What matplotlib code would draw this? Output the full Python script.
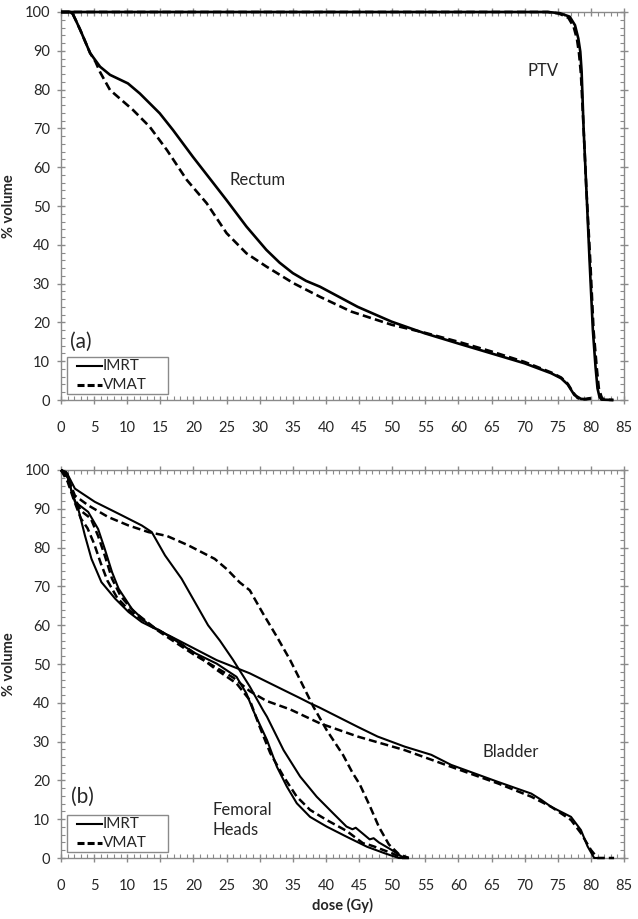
import matplotlib
matplotlib.use("Agg")
import matplotlib.pyplot as plt
from matplotlib.ticker import MultipleLocator
from matplotlib.patches import Rectangle

plt.rcParams['font.family'] = ['Lato', 'DejaVu Sans']

# ---------------- panel (a) ----------------
rectum_imrt_dose = [0, 1.4, 1.8, 2.2, 2.9, 3.5, 4.4, 5.9, 7.4, 10.1, 11.9, 14.9, 16.9, 19.9, 23.0, 25.0,
                    28.0, 31.0, 33.0, 35.0, 37.0, 39.1, 44.8, 49.9, 54.9, 59.9, 65.0, 70.0, 74.0, 75.5,
                    76.5, 77.5, 78.5, 79.3, 80.0]
rectum_imrt_vol = [100, 100, 99.4, 98, 95.4, 93, 89.4, 85.9, 83.8, 81.6, 79, 73.9, 69.6, 62.7, 55.9, 51.5,
                   44.7, 38.7, 35.4, 32.7, 30.7, 29.2, 24.0, 20.2, 17.2, 14.6, 12.0, 9.45, 6.9, 5.6,
                   4.0, 1.3, 0.3, 0.2, 0.4]
rectum_vmat_dose = [0, 1.4, 1.8, 2.2, 2.9, 3.5, 4.4, 5.2, 5.9, 7.4, 10.9, 13.4, 16.0, 19.0, 22.0, 25.0,
                    28.0, 31.0, 35.1, 39.1, 43.8, 49.9, 55.0, 60.0, 65.0, 70.0, 74.0, 75.5, 76.5,
                    77.3, 78.0, 79.0, 80.0]
rectum_vmat_vol = [100, 100, 99.4, 98, 95.4, 93, 89.4, 87.2, 84.5, 79.9, 74.7, 70.4, 64.4, 56.7, 50.7, 43.0,
                   37.8, 34.4, 30.1, 26.6, 22.8, 19.4, 17.3, 15.0, 12.5, 9.8, 7.1, 5.8, 4.2,
                   2.0, 0.5, 0.2, 0.5]
ptv_imrt_dose = [0, 73.5, 75.3, 76.8, 77.6, 78.1, 78.4, 78.6, 78.9, 79.3, 79.8, 80.3, 80.7, 81.0, 81.3,
                 81.6, 83.4]
ptv_imrt_vol = [100, 100, 99.7, 98.8, 96.6, 93.2, 89.8, 84.7, 70.0, 55.0, 36.0, 18.0, 8.6, 3.0, 0.8,
                0.1, 0]
ptv_vmat_dose = [0, 73.5, 75.2, 76.6, 77.4, 77.9, 78.2, 78.5, 78.9, 79.3, 79.9, 80.4, 80.9, 81.2, 81.6,
                 81.9, 83.4]
ptv_vmat_vol = [100, 100, 99.6, 98.5, 96.2, 93.0, 89.5, 84.0, 70.0, 55.0, 36.0, 18.0, 8.0, 3.0, 0.8,
                0.1, 0]

# ---------------- panel (b) ----------------
bladder_imrt_dose = [0, 1.0, 1.6, 2.6, 3.6, 4.6, 6.1, 8.2, 10.2, 12.2, 14.2, 16.7, 19.2, 23.5, 28.5,
                     33.6, 36.1, 37.6, 39.0, 44.8, 47.8, 51.9, 55.9, 58.9, 66.0, 71.0, 72.5, 74.0,
                     77.0, 78.5, 79.5, 80.5, 82.0]
bladder_imrt_vol = [100, 99, 94.3, 90, 83.2, 77.1, 71.1, 66.8, 63.4, 60.8, 59.1, 57.0, 54.8, 51.0, 47.6,
                    43.3, 41.2, 39.9, 38.8, 33.8, 31.3, 28.7, 26.6, 24.0, 19.6, 16.6, 15.0, 13.2,
                    10.6, 7.2, 3.0, 0, 0]
bladder_vmat_dose = [0, 1.0, 2.0, 3.0, 4.0, 5.0, 6.0, 7.0, 8.5, 10.5, 13.0, 16.0, 20.0, 23.5, 26.0,
                     28.5, 31.0, 34.6, 39.1, 44.8, 51.9, 58.9, 66.0, 71.0, 74.0, 77.0, 78.5, 80.0,
                     81.0, 83.5]
bladder_vmat_vol = [100, 97, 92, 87.5, 85, 81, 76, 71.5, 67, 63.5, 60.5, 57, 52.5, 49, 46.5,
                    43, 40.5, 38.3, 34.7, 31.3, 27.8, 23.5, 19.2, 15.8, 13.2, 9.8, 6.4, 2.1,
                    0, 0]
# upper solid curve (IMRT)
organ_a_imrt_dose = [0, 0.8, 2.1, 5.1, 9.2, 12.2, 13.7, 15.7, 18.2, 20.2, 22.2, 24.0, 26.0, 28.5,
                     30.5, 31.1, 33.6, 36.1, 38.6, 41.1, 43.1, 44.0, 44.5, 45.2, 46.6, 47.2, 48.0,
                     49.9, 51.4, 52.5]
organ_a_imrt_vol = [100, 99.5, 95.2, 91.8, 88.3, 85.7, 84.0, 78.0, 72.0, 66.0, 60.0, 56.0, 51.0, 44.2,
                    38.1, 36.4, 27.8, 21.0, 15.8, 11.5, 8.1, 7.4, 7.8, 6.8, 4.8, 5.1, 4.0,
                    2.1, 0.4, 0]
# upper dashed curve (VMAT)
organ_a_vmat_dose = [0, 0.8, 2.1, 4.1, 7.1, 10.2, 13.2, 16.0, 19.2, 23.2, 25.0, 27.0, 28.5, 30.5,
                     32.6, 34.6, 36.1, 38.1, 40.1, 42.6, 44.0, 45.1, 46.6, 48.0, 49.5, 51.0, 52.5]
organ_a_vmat_vol = [100, 99, 93.4, 90.9, 87.9, 85.7, 84.0, 83.0, 80.6, 77.1, 74.5, 71.0, 69.0, 63.0,
                    57.0, 51.0, 45.9, 39.0, 33.0, 26.5, 22.0, 19.0, 13.5, 8.0, 3.5, 1.0, 0]
# femoral heads
femoral_imrt_dose = [0, 1.0, 2.1, 4.1, 5.6, 6.6, 7.7, 8.7, 10.7, 13.0, 16.0, 20.0, 23.5, 26.5, 28.0,
                     29.0, 31.1, 32.6, 34.1, 35.6, 37.6, 40.1, 43.1, 46.2, 48.9, 51.0, 52.5]
femoral_imrt_vol = [100, 98, 91.8, 89.2, 84.8, 79.7, 73.7, 69.4, 64.2, 60.5, 57.5, 53.0, 50.1, 46.7, 42.4,
                    38.1, 30.4, 23.5, 18.4, 14.1, 10.6, 8.1, 5.5, 2.9, 1.2, 0, 0]
femoral_vmat_dose = [0, 1.0, 2.0, 3.0, 4.5, 5.6, 6.6, 7.7, 9.0, 11.0, 14.0, 17.0, 20.0, 23.5, 26.5,
                     28.5, 30.0, 31.6, 33.6, 35.6, 37.6, 40.1, 43.1, 45.6, 46.5, 47.2, 50.0, 51.5, 52.5]
femoral_vmat_vol = [100, 98, 93, 89.5, 87.5, 83, 78, 72, 67.5, 63.5, 59.5, 56.5, 53, 48.5, 45,
                    40.7, 33.8, 27, 21, 15.8, 12.4, 9.8, 7.0, 3.8, 3.4, 3.0, 1.2, 0, 0]

x_ticks = list(range(0, 90, 5))
y_ticks = list(range(0, 110, 10))
legend_labels = ['IMRT', 'VMAT']

W, H = 638, 919
fig = plt.figure(figsize=(W / 100, H / 100), dpi=100)

def px_axes(left, top, right, bottom):
    return fig.add_axes([left / W, 1 - bottom / H, (right - left) / W, (bottom - top) / H])

ax_a = px_axes(61, 12, 624, 400)
ax_b = px_axes(61, 470, 624, 858)

SPINE = '#8a8a8a'
TXT = '#262626'

def style(ax):
    ax.set_xlim(0, 85)
    ax.set_ylim(0, 100)
    ax.set_xticks(x_ticks)
    ax.set_yticks(y_ticks)
    ax.xaxis.set_minor_locator(MultipleLocator(1))
    ax.yaxis.set_minor_locator(MultipleLocator(2))
    for s in ax.spines.values():
        s.set_color(SPINE)
        s.set_linewidth(1.0)
    ax.tick_params(which='major', direction='inout', length=6, width=1.0, color=SPINE,
                   top=True, right=True, labelsize=10.5, labelcolor=TXT)
    ax.tick_params(which='minor', direction='in', length=3, width=0.8, color=SPINE,
                   top=True, right=True)
    ax.tick_params(axis='x', which='major', pad=12)
    ax.tick_params(axis='y', which='major', pad=5)
    ax.set_ylabel('% volume', fontsize=10.5, fontweight='bold', color=TXT, labelpad=6)

style(ax_a)
style(ax_b)

DASH = (3.2, 1.6)

def solid(ax, x, y, lw):
    ax.plot(x, y, color='black', lw=lw, solid_capstyle='butt', clip_on=False, zorder=3)

def dashed(ax, x, y, lw):
    ax.plot(x, y, color='black', lw=lw, linestyle=(0, DASH), clip_on=False, zorder=3)

LW_A = 1.9
solid(ax_a, rectum_imrt_dose, rectum_imrt_vol, LW_A)
dashed(ax_a, rectum_vmat_dose, rectum_vmat_vol, LW_A)
solid(ax_a, ptv_imrt_dose, ptv_imrt_vol, LW_A)
dashed(ax_a, ptv_vmat_dose, ptv_vmat_vol, LW_A)

LW_B = 1.5
solid(ax_b, bladder_imrt_dose, bladder_imrt_vol, LW_B)
dashed(ax_b, bladder_vmat_dose, bladder_vmat_vol, 1.8)
solid(ax_b, organ_a_imrt_dose, organ_a_imrt_vol, LW_B)
dashed(ax_b, organ_a_vmat_dose, organ_a_vmat_vol, 1.8)
solid(ax_b, femoral_imrt_dose, femoral_imrt_vol, LW_B)
dashed(ax_b, femoral_vmat_dose, femoral_vmat_vol, 1.8)

ax_b.set_xlabel('dose (Gy)', fontsize=10.5, fontweight='bold', color=TXT, labelpad=4)

# annotations
ax_a.text(29.7, 56.7, 'Rectum', fontsize=12, ha='center', va='center', color=TXT)
ax_a.text(72.8, 84.8, 'PTV', fontsize=12, ha='center', va='center', color=TXT)
ax_a.text(2.95, 15.0, '(a)', fontsize=15, ha='center', va='center', color=TXT)
ax_b.text(3.25, 15.7, '(b)', fontsize=15, ha='center', va='center', color=TXT)
ax_b.text(22.8, 9.8, 'Femoral\nHeads', fontsize=12, ha='left', va='center', color=TXT,
          linespacing=1.25)
ax_b.text(67.9, 27.3, 'Bladder', fontsize=12, ha='center', va='center', color=TXT)

def fx(px):
    return (px - 61) / 563.0

def fy(py):
    return (400 - py) / 388.0

def legend(ax):
    tr = ax.transAxes
    ax.add_patch(Rectangle((fx(67), fy(394)), fx(168) - fx(67), fy(357) - fy(394),
                           transform=tr, facecolor='white', edgecolor=SPINE, lw=1.0,
                           zorder=5, clip_on=False))
    ys = [fy(366), fy(385)]
    ax.plot([fx(77), fx(102)], [ys[0], ys[0]], transform=tr, color='black', lw=1.5,
            zorder=6, clip_on=False)
    ax.plot([fx(77), fx(102)], [ys[1], ys[1]], transform=tr, color='black', lw=2.2,
            linestyle=(0, (2.3, 1.0)), zorder=6, clip_on=False)
    for yy, lab in zip(ys, legend_labels):
        ax.text(fx(103), yy, lab, transform=tr, fontsize=11, ha='left', va='center',
                color=TXT, zorder=7)

legend(ax_a)
legend(ax_b)

fig.savefig('out.png', dpi=100)
